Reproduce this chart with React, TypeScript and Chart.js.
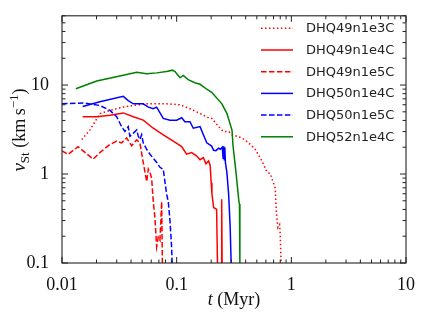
import React, { useEffect, useRef } from 'react';
import { Chart, registerables } from 'chart.js';

Chart.register(...registerables);

// ---- axis ranges & tick labels ----
const xRange = [0.01, 10];
const yRange = [0.1, 60];
const xMajorTicks = [0.01, 0.1, 1, 10];
const yMajorTicks = [0.1, 1, 10];

// ---- series names ----
const seriesNames = ['DHQ49n1e3C', 'DHQ49n1e4C', 'DHQ49n1e5C', 'DHQ50n1e4C', 'DHQ50n1e5C', 'DHQ52n1e4C'];

// ---- data: t (Myr), v_St (km/s) ----
const t49n1e3C = [0.01485, 0.01754, 0.0214, 0.0262, 0.0342, 0.0419, 0.0547, 0.0818, 0.107, 0.1306, 0.16, 0.195, 0.203, 0.232, 0.255, 0.284, 0.304, 0.336, 0.371, 0.424, 0.485, 0.554, 0.613, 0.655, 0.701, 0.724, 0.739, 0.764, 0.79, 0.8, 0.816];
const v49n1e3C = [2.44, 3.13, 4.78, 5.19, 5.65, 5.89, 6.15, 6.15, 6.0, 5.42, 4.78, 4.21, 4.21, 3.41, 3.01, 3.01, 2.76, 2.65, 2.54, 2.24, 1.89, 1.4, 1.05, 1.01, 0.78, 0.69, 0.38, 0.25, 0.27, 0.21, 0.09];

const t49n1e4C = [0.01515, 0.0201, 0.0262, 0.0342, 0.0419, 0.0511, 0.0625, 0.0764, 0.0934, 0.1106, 0.122, 0.135, 0.149, 0.16, 0.171, 0.18, 0.19, 0.196, 0.2, 0.203, 0.21, 0.217, 0.223, 0.229, 0.244, 0.247, 0.25];
const v49n1e4C = [4.4, 4.4, 4.57, 4.86, 4.4, 4.03, 3.27, 2.76, 2.34, 2.03, 1.67, 1.74, 1.6, 1.45, 1.53, 1.3, 1.4, 1.25, 0.8, 0.6, 0.42, 0.41, 0.4, 0.05, 0.05, 0.52, 0.05];

const t49n1e5C = [0.01, 0.0113, 0.0138, 0.0187, 0.0214, 0.0262, 0.03, 0.0331, 0.0366, 0.0405, 0.0448, 0.0478, 0.0511, 0.0548, 0.0566, 0.0585, 0.0605, 0.0625, 0.0647, 0.0669, 0.0691, 0.0715, 0.074, 0.0755];
const v49n1e5C = [1.82, 1.66, 2.03, 1.47, 1.74, 2.15, 2.34, 2.24, 2.54, 2.08, 2.42, 2.24, 1.35, 0.82, 1.14, 1.05, 0.89, 0.49, 0.32, 0.152, 0.195, 0.18, 0.49, 0.05];

const t50n1e4C = [0.01515, 0.0214, 0.0342, 0.0378, 0.0419, 0.0511, 0.0566, 0.0625, 0.0669, 0.0764, 0.0874, 0.1, 0.1106, 0.118, 0.1306, 0.1396, 0.16, 0.171, 0.183, 0.202, 0.21, 0.22, 0.232, 0.24, 0.25, 0.254, 0.257, 0.26, 0.263, 0.266, 0.274, 0.284, 0.293, 0.299];
const v50n1e4C = [5.74, 6.5, 7.46, 6.68, 6.15, 6.15, 5.65, 5.42, 5.65, 4.21, 4.03, 4.03, 4.29, 3.88, 3.88, 3.27, 3.41, 2.76, 2.24, 2.06, 1.85, 1.83, 1.95, 1.9, 2.0, 1.5, 2.05, 1.45, 2.0, 1.35, 1.05, 0.59, 0.25, 0.09];

const t50n1e5C = [0.01, 0.01534, 0.0214, 0.0262, 0.03, 0.0331, 0.0354, 0.0378, 0.0391, 0.0419, 0.0448, 0.0463, 0.0478, 0.0495, 0.0511, 0.0548, 0.0585, 0.067, 0.0715, 0.0764, 0.0818, 0.0845, 0.0874, 0.0904, 0.0916];
const v50n1e5C = [6.15, 6.3, 5.89, 5.19, 4.4, 3.41, 3.01, 3.41, 2.65, 2.88, 3.13, 2.65, 2.44, 2.76, 2.24, 1.89, 1.67, 1.35, 1.19, 1.13, 0.59, 0.49, 0.3, 0.15, 0.09];

const t52n1e4C = [0.0132, 0.0201, 0.0342, 0.0448, 0.0547, 0.0669, 0.0818, 0.0916, 0.0967, 0.107, 0.114, 0.126, 0.144, 0.16, 0.183, 0.202, 0.248, 0.274, 0.304, 0.31, 0.322, 0.329, 0.349, 0.353, 0.356];
const v52n1e4C = [9.1, 11.1, 12.9, 13.9, 13.4, 13.7, 14.2, 14.7, 14.2, 12.05, 12.8, 11.5, 10.6, 10.2, 8.97, 8.3, 6.15, 4.8, 3.1, 2.08, 1.35, 1.05, 0.49, 0.46, 0.09];

const seriesT = [t49n1e3C, t49n1e4C, t49n1e5C, t50n1e4C, t50n1e5C, t52n1e4C];
const seriesV = [v49n1e3C, v49n1e4C, v49n1e5C, v50n1e4C, v50n1e5C, v52n1e4C];

// ---- styles ----
const seriesColors = ['#ff0000', '#ff0000', '#ff0000', '#0000ff', '#0000ff', '#008000'];
const DOTTED = [1.5, 2.475];
const DASHED = [5.55, 2.4];
const SOLID: number[] = [];
const seriesDash = [DOTTED, SOLID, DASHED, SOLID, DASHED, SOLID];

const SERIF = "'Liberation Serif', 'DejaVu Serif', serif";
const SANS = "'DejaVu Sans', sans-serif";

function minorValues(decades: number[], max: number) {
  const out: number[] = [];
  for (const d of decades) {
    for (let k = 2; k <= 9; k++) {
      const v = Number((k * Math.pow(10, d)).toPrecision(3));
      if (v <= max) out.push(v);
    }
  }
  return out;
}

type Part = { text: string; font: string; dy: number };

function drawParts(ctx: CanvasRenderingContext2D, parts: Part[], cx: number, baseline: number) {
  let total = 0;
  for (const p of parts) {
    ctx.font = p.font;
    total += ctx.measureText(p.text).width;
  }
  let x = cx - total / 2;
  ctx.textAlign = 'left';
  ctx.textBaseline = 'alphabetic';
  for (const p of parts) {
    ctx.font = p.font;
    ctx.fillText(p.text, x, baseline + p.dy);
    x += ctx.measureText(p.text).width;
  }
}

const framePlugin = {
  id: 'frame',
  afterDatasetsDraw(chart: any) {
    const { ctx, chartArea: a, scales } = chart;
    const xs = scales.x;
    const ys = scales.y;
    ctx.save();
    ctx.setLineDash([]);
    ctx.strokeStyle = '#222';
    ctx.lineWidth = 1;
    const seg = (x1: number, y1: number, x2: number, y2: number) => {
      ctx.beginPath();
      ctx.moveTo(x1, y1);
      ctx.lineTo(x2, y2);
      ctx.stroke();
    };
    const xMinor = minorValues([-2, -1, 0], xRange[1]);
    const yMinor = minorValues([-1, 0, 1], yRange[1]);
    const xTick = (v: number, len: number) => {
      const px = xs.getPixelForValue(v);
      seg(px, a.bottom, px, a.bottom - len);
      seg(px, a.top, px, a.top + len);
    };
    const yTick = (v: number, len: number) => {
      const py = ys.getPixelForValue(v);
      seg(a.left, py, a.left + len, py);
      seg(a.right, py, a.right - len, py);
    };
    xMajorTicks.forEach((v) => xTick(v, 6));
    xMinor.forEach((v) => xTick(v, 3.5));
    yMajorTicks.forEach((v) => yTick(v, 6));
    yMinor.forEach((v) => yTick(v, 3.5));
    ctx.lineWidth = 1.1;
    ctx.strokeRect(a.left, a.top, a.right - a.left, a.bottom - a.top);

    // legend
    const legX0 = 261;
    const legX1 = 293;
    const legTextX = 306;
    const legY0 = 28.3;
    const legStep = 21.7;
    seriesNames.forEach((name, i) => {
      const y = legY0 + i * legStep;
      ctx.strokeStyle = seriesColors[i];
      ctx.lineWidth = 1.5;
      ctx.lineCap = 'butt';
      ctx.setLineDash(seriesDash[i]);
      seg(legX0, y, legX1, y);
      ctx.setLineDash([]);
      ctx.fillStyle = '#222';
      ctx.font = `13px ${SANS}`;
      ctx.textAlign = 'left';
      ctx.textBaseline = 'middle';
      ctx.fillText(name, legTextX, y + 0.5);
    });

    // axis titles
    ctx.fillStyle = '#111';
    drawParts(
      ctx,
      [
        { text: 't', font: `italic 18px ${SERIF}`, dy: 0 },
        { text: ' (Myr)', font: `18px ${SERIF}`, dy: 0 },
      ],
      (a.left + a.right) / 2,
      305
    );
    ctx.save();
    ctx.translate(25, 130);
    ctx.rotate(-Math.PI / 2);
    drawParts(
      ctx,
      [
        { text: 'v', font: `italic 19px ${SERIF}`, dy: 0 },
        { text: 'St', font: `13px ${SERIF}`, dy: 4 },
        { text: ' (km\u2009s', font: `18px ${SERIF}`, dy: 0 },
        { text: '\u22121', font: `13px ${SERIF}`, dy: -7 },
        { text: ')', font: `18px ${SERIF}`, dy: 0 },
      ],
      0,
      0
    );
    ctx.restore();
    ctx.restore();
  },
};

export default function App() {
  const ref = useRef<HTMLCanvasElement | null>(null);
  useEffect(() => {
    if (!ref.current) return;
    const datasets = seriesNames.map((name, i) => ({
      label: name,
      data: seriesT[i].map((t, j) => ({ x: t, y: seriesV[i][j] })),
      borderColor: seriesColors[i],
      backgroundColor: seriesColors[i],
      borderWidth: 1.5,
      borderDash: seriesDash[i],
      borderCapStyle: 'butt' as const,
      pointRadius: 0,
      fill: false,
      tension: 0,
      clip: 0,
      order: 10 - i,
    }));
    const chart = new Chart(ref.current, {
      type: 'line',
      data: { datasets },
      options: {
        animation: false,
        responsive: false,
        events: [],
        layout: { padding: { left: 0, top: 9, right: 19, bottom: 0 } },
        plugins: { legend: { display: false }, tooltip: { enabled: false } },
        scales: {
          x: {
            type: 'logarithmic',
            min: xRange[0],
            max: xRange[1],
            afterBuildTicks: (s: any) => {
              s.ticks = xMajorTicks.map((v) => ({ value: v }));
            },
            afterFit: (s: any) => {
              s.height = 55;
            },
            grid: { display: false },
            border: { display: false },
            ticks: {
              autoSkip: false,
              maxRotation: 0,
              padding: 3,
              color: '#111',
              font: { family: SERIF, size: 18 },
              callback: (v: any) => String(v),
            },
          },
          y: {
            type: 'logarithmic',
            min: yRange[0],
            max: yRange[1],
            afterBuildTicks: (s: any) => {
              s.ticks = yMajorTicks.map((v) => ({ value: v }));
            },
            afterFit: (s: any) => {
              s.width = 62;
            },
            grid: { display: false },
            border: { display: false },
            ticks: {
              autoSkip: false,
              padding: 5,
              color: '#111',
              font: { family: SERIF, size: 18 },
              callback: (v: any) => String(v),
            },
          },
        },
      } as any,
      plugins: [framePlugin],
    });
    return () => chart.destroy();
  }, []);
  return (
    <div style={{ position: 'fixed', left: 0, top: 0, width: 425, height: 318, background: '#fff' }}>
      <canvas ref={ref} width={425} height={318} style={{ display: 'block' }} />
    </div>
  );
}
